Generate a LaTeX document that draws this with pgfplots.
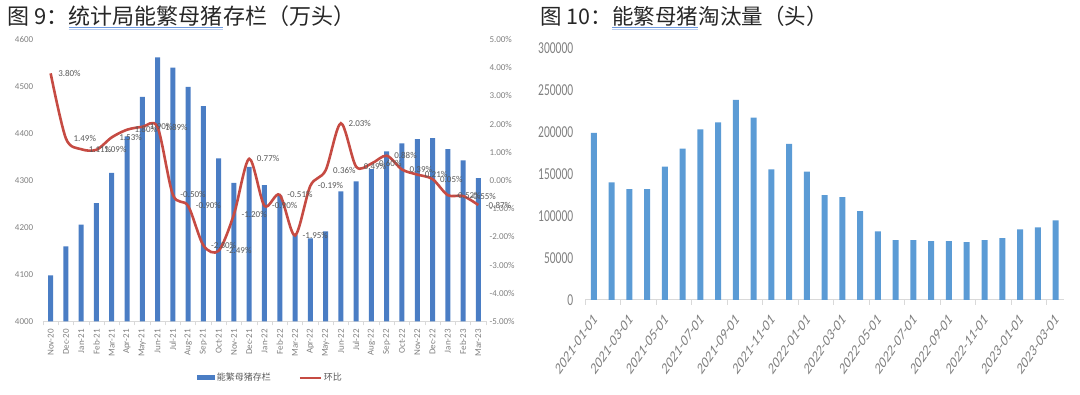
\documentclass[border=0pt]{standalone}
\usepackage{fontspec}
\setmainfont{Carlito}
\newfontfamily\cjk{Noto Sans CJK SC}
\usepackage{graphicx}
\usepackage{pgfplots}
\pgfplotsset{compat=1.18}
\usepackage{pgfplotstable}

\definecolor{barL}{HTML}{4A7DC4}
\definecolor{barR}{HTML}{5B9BD5}
\definecolor{lineR}{HTML}{C64B43}
\definecolor{tickgray}{HTML}{808080}
\definecolor{labgray}{HTML}{595959}
\definecolor{axgray}{HTML}{D9D9D9}
\definecolor{ulblueA}{HTML}{6F9BE0}
\definecolor{ulblueB}{HTML}{B9CDF0}
\definecolor{titlec}{HTML}{262626}

\pgfplotstableread{
x val pct
0 4098 3.80
1 4160 1.49
2 4206 1.11
3 4252 1.09
4 4316 1.53
5 4394 1.80
6 4478 1.90
7 4562 1.89
8 4540 -0.50
9 4499 -0.90
10 4458 -2.30
11 4347 -2.49
12 4295 -1.20
13 4329 0.77
14 4290 -0.90
15 4268 -0.51
16 4185 -1.95
17 4177 -0.19
18 4192 0.36
19 4277 2.03
20 4298 0.49
21 4324 0.60
22 4362 0.88
23 4379 0.39
24 4388 0.21
25 4390 0.05
26 4367 -0.52
27 4343 -0.55
28 4305 -0.87
}\sowtable

\pgfplotstableread{
x val
0 199000
1 140000
2 132000
3 132000
4 158700
5 180100
6 203200
7 211400
8 238200
9 217100
10 155400
11 185800
12 152900
13 124800
14 122400
15 105900
16 81600
17 71300
18 71300
19 70100
20 70100
21 68900
22 71300
23 73800
24 84000
25 86600
26 94800
}\culltable

\newcommand\rl[1]{\scalebox{1}[1.45]{\rotatebox{45}{#1}}}

\begin{document}
\begin{tikzpicture}
\useasboundingbox (0pt,0pt) rectangle (1080pt,395pt);

% ---- titles ----
\tikzset{ttl/.style={anchor=base west, inner sep=0pt, text=titlec, font=\cjk\fontsize{22}{24}\selectfont}}
\node[ttl] (t1a) at (7pt,370.5pt) {图 9：};
\node[ttl] (t1b) at (t1a.base east) {统计局能繁母猪};
\node[ttl] (t1c) at (t1b.base east) {存栏（万头）};
\draw[ulblueA, line width=0.8pt] ([yshift=-3.2pt]t1b.base west) -- ([yshift=-3.2pt]t1b.base east);
\draw[ulblueB, line width=0.8pt] ([yshift=-4.8pt]t1b.base west) -- ([yshift=-4.8pt]t1b.base east);

\node[ttl, font=\cjk\fontsize{21.5}{24}\selectfont] (t2a) at (540pt,370.5pt) {图 10：};
\node[ttl, font=\cjk\fontsize{21.5}{24}\selectfont] (t2b) at (t2a.base east) {能繁母猪};
\node[ttl, font=\cjk\fontsize{21.5}{24}\selectfont] (t2c) at (t2b.base east) {淘汰量（头）};
\draw[ulblueA, line width=0.8pt] ([yshift=-3.2pt]t2b.base west) -- ([yshift=-3.2pt]t2b.base east);
\draw[ulblueB, line width=0.8pt] ([yshift=-4.8pt]t2b.base west) -- ([yshift=-4.8pt]t2b.base east);

% ---- left chart: bars ----
\begin{axis}[
  at={(43pt,73.5pt)}, anchor=south west, scale only axis,
  width=443pt, height=282pt,
  xmin=-0.5, xmax=28.5, ymin=4000, ymax=4600,
  enlargelimits=false,
  axis x line*=bottom, axis y line*=left,
  x axis line style={draw=axgray, line width=0.8pt, -},
  y axis line style={draw=none},
  ytick={4000,4100,...,4600},
  yticklabel={\pgfmathprintnumber[fixed,precision=0,1000 sep={}]{\tick}},
  y tick label style={xshift=-2pt},
  ytick style={draw=none},
  xtick={0,...,28},
  xticklabels={Nov-20,Dec-20,Jan-21,Feb-21,Mar-21,Apr-21,May-21,Jun-21,Jul-21,Aug-21,Sep-21,Oct-21,Nov-21,Dec-21,Jan-22,Feb-22,Mar-22,Apr-22,May-22,Jun-22,Jul-22,Aug-22,Sep-22,Oct-22,Nov-22,Dec-22,Jan-23,Feb-23,Mar-23},
  x tick label style={rotate=90, anchor=east},
  major x tick style={draw=none},
  minor xtick={-0.5,0.5,...,28.5},
  minor x tick style={draw=axgray, line width=0.6pt},
  minor tick length=4pt,
  tick align=outside,
  ticklabel style={font=\fontsize{9}{10}\selectfont, text=tickgray},
  /pgf/number format/assume math mode=true,
  legend style={at={(0.5135,-0.2)}, anchor=center, draw=none, fill=none,
    legend columns=2, font=\cjk\fontsize{9}{11}\selectfont, text=labgray,
    /tikz/every even column/.append style={column sep=26pt}},
]
\addplot[ybar, bar width=5pt, fill=barL, draw=none,
  legend image code/.code={\fill[barL] (0pt,-2.5pt) rectangle (18pt,2.5pt);}]
  table[x=x,y=val]{\sowtable};
\addlegendentry{能繁母猪存栏}
\addlegendimage{legend image code/.code={\draw[lineR, line width=2pt] (0pt,0pt) -- (21pt,0pt);}}
\addlegendentry{环比}
\end{axis}

% ---- left chart: line ----
\begin{axis}[
  at={(43pt,73.5pt)}, anchor=south west, scale only axis,
  width=443pt, height=282pt,
  xmin=-0.5, xmax=28.5, ymin=-5, ymax=5,
  enlargelimits=false, clip=false,
  axis x line=none, axis y line*=right,
  y axis line style={draw=none},
  ytick={-5,-4,...,5},
  yticklabel={\pgfmathprintnumber[fixed,fixed zerofill,precision=2]{\tick}\%},
  ytick style={draw=none},
  ticklabel style={font=\fontsize{9}{10}\selectfont, text=tickgray},
  /pgf/number format/assume math mode=true,
]
\addplot[lineR, line width=2.6pt, smooth, tension=0.5, no marks,
  point meta=explicit,
  nodes near coords={\pgfmathprintnumber[fixed,fixed zerofill,precision=2]{\pgfplotspointmeta}\%},
  every node near coord/.append style={anchor=west, xshift=3pt, font=\fontsize{9}{10}\selectfont, text=labgray}]
  table[x=x,y=pct,meta=pct]{\sowtable};
\end{axis}

% ---- right chart ----
\begin{axis}[
  at={(585pt,95pt)}, anchor=south west, scale only axis,
  width=479.4pt, height=252pt,
  xmin=-0.5, xmax=26.5, ymin=0, ymax=300000,
  enlargelimits=false,
  scaled y ticks=false,
  axis x line*=bottom, axis y line*=left,
  x axis line style={draw=axgray, line width=1pt, -},
  y axis line style={draw=none},
  ytick={0,50000,...,300000},
  yticklabel={\scalebox{1}[1.45]{\pgfmathprintnumber[fixed,precision=0,1000 sep={}]{\tick}}},
  y tick label style={xshift=-4pt},
  ytick style={draw=none},
  xtick={0,2,...,26},
  xticklabels={\rl{2021-01-01},\rl{2021-03-01},\rl{2021-05-01},\rl{2021-07-01},\rl{2021-09-01},\rl{2021-11-01},\rl{2022-01-01},\rl{2022-03-01},\rl{2022-05-01},\rl{2022-07-01},\rl{2022-09-01},\rl{2022-11-01},\rl{2023-01-01},\rl{2023-03-01}},
  x tick label style={anchor=north east, inner sep=0pt, xshift=4pt, yshift=-8pt},
  major x tick style={draw=none},
  minor xtick={-0.5,1.5,...,25.5},
  minor x tick style={draw=axgray, line width=0.8pt},
  minor tick length=5pt,
  tick align=outside,
  ticklabel style={font=\fontsize{11.5}{13}\selectfont, text=tickgray},
  /pgf/number format/assume math mode=true,
]
\addplot[ybar, bar width=6pt, fill=barR, draw=none]
  table[x=x,y=val]{\culltable};
\end{axis}
\end{tikzpicture}
\end{document}
